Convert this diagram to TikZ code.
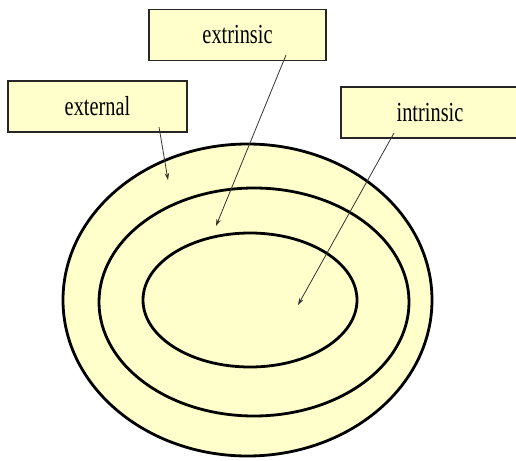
\documentclass[tikz,border=0pt]{standalone}
\usepackage{fontspec}
\usetikzlibrary{arrows.meta}
\newfontfamily\labelfont[FakeStretch=0.74]{Liberation Serif}
\definecolor{paleyellow}{HTML}{FFFFCC}
\begin{document}
\begin{tikzpicture}[>={Stealth[length=7pt, width=4.5pt]}, x=1pt, y=-1pt]
      \tikzset{label box/.style={draw=black!85, line width=1.3pt, fill=paleyellow, minimum height=51pt, inner sep=0pt, font=\labelfont\fontsize{27.5}{31}\selectfont},
               ring/.style={draw=black, line width=2.8pt, fill=paleyellow},
               pointer/.style={->, draw=black!80, line width=0.8pt}}
      \useasboundingbox (0,0) rectangle (516,460);
      \clip (0,0) rectangle (516,460);

      % nested rings
      \draw[ring] (247.5,300) ellipse [x radius=184.5, y radius=156];
      \draw[ring] (254,302) ellipse [x radius=155, y radius=114];
      \draw[ring] (250,300) ellipse [x radius=107, y radius=67];

      % labels
      \node[label box, minimum width=177pt] (extrinsic) at (237.5,35) {extrinsic};
      \node[label box, minimum width=179pt] (external) at (97.5,106.5) {external};
      \node[label box, minimum width=178pt] (intrinsic) at (430,112.5) {intrinsic};

      % pointer ends
      \coordinate (externalfrom) at (159,127);
      \coordinate (externalto) at (168,180);
      \coordinate (extrinsicfrom) at (286,55);
      \coordinate (extrinsicto) at (216,226);
      \coordinate (intrinsicfrom) at (394,133);
      \coordinate (intrinsicto) at (298,305);
      \draw[pointer] (externalfrom) -- (externalto);
      \draw[pointer] (extrinsicfrom) -- (extrinsicto);
      \draw[pointer] (intrinsicfrom) -- (intrinsicto);
    \end{tikzpicture}
\end{document}
